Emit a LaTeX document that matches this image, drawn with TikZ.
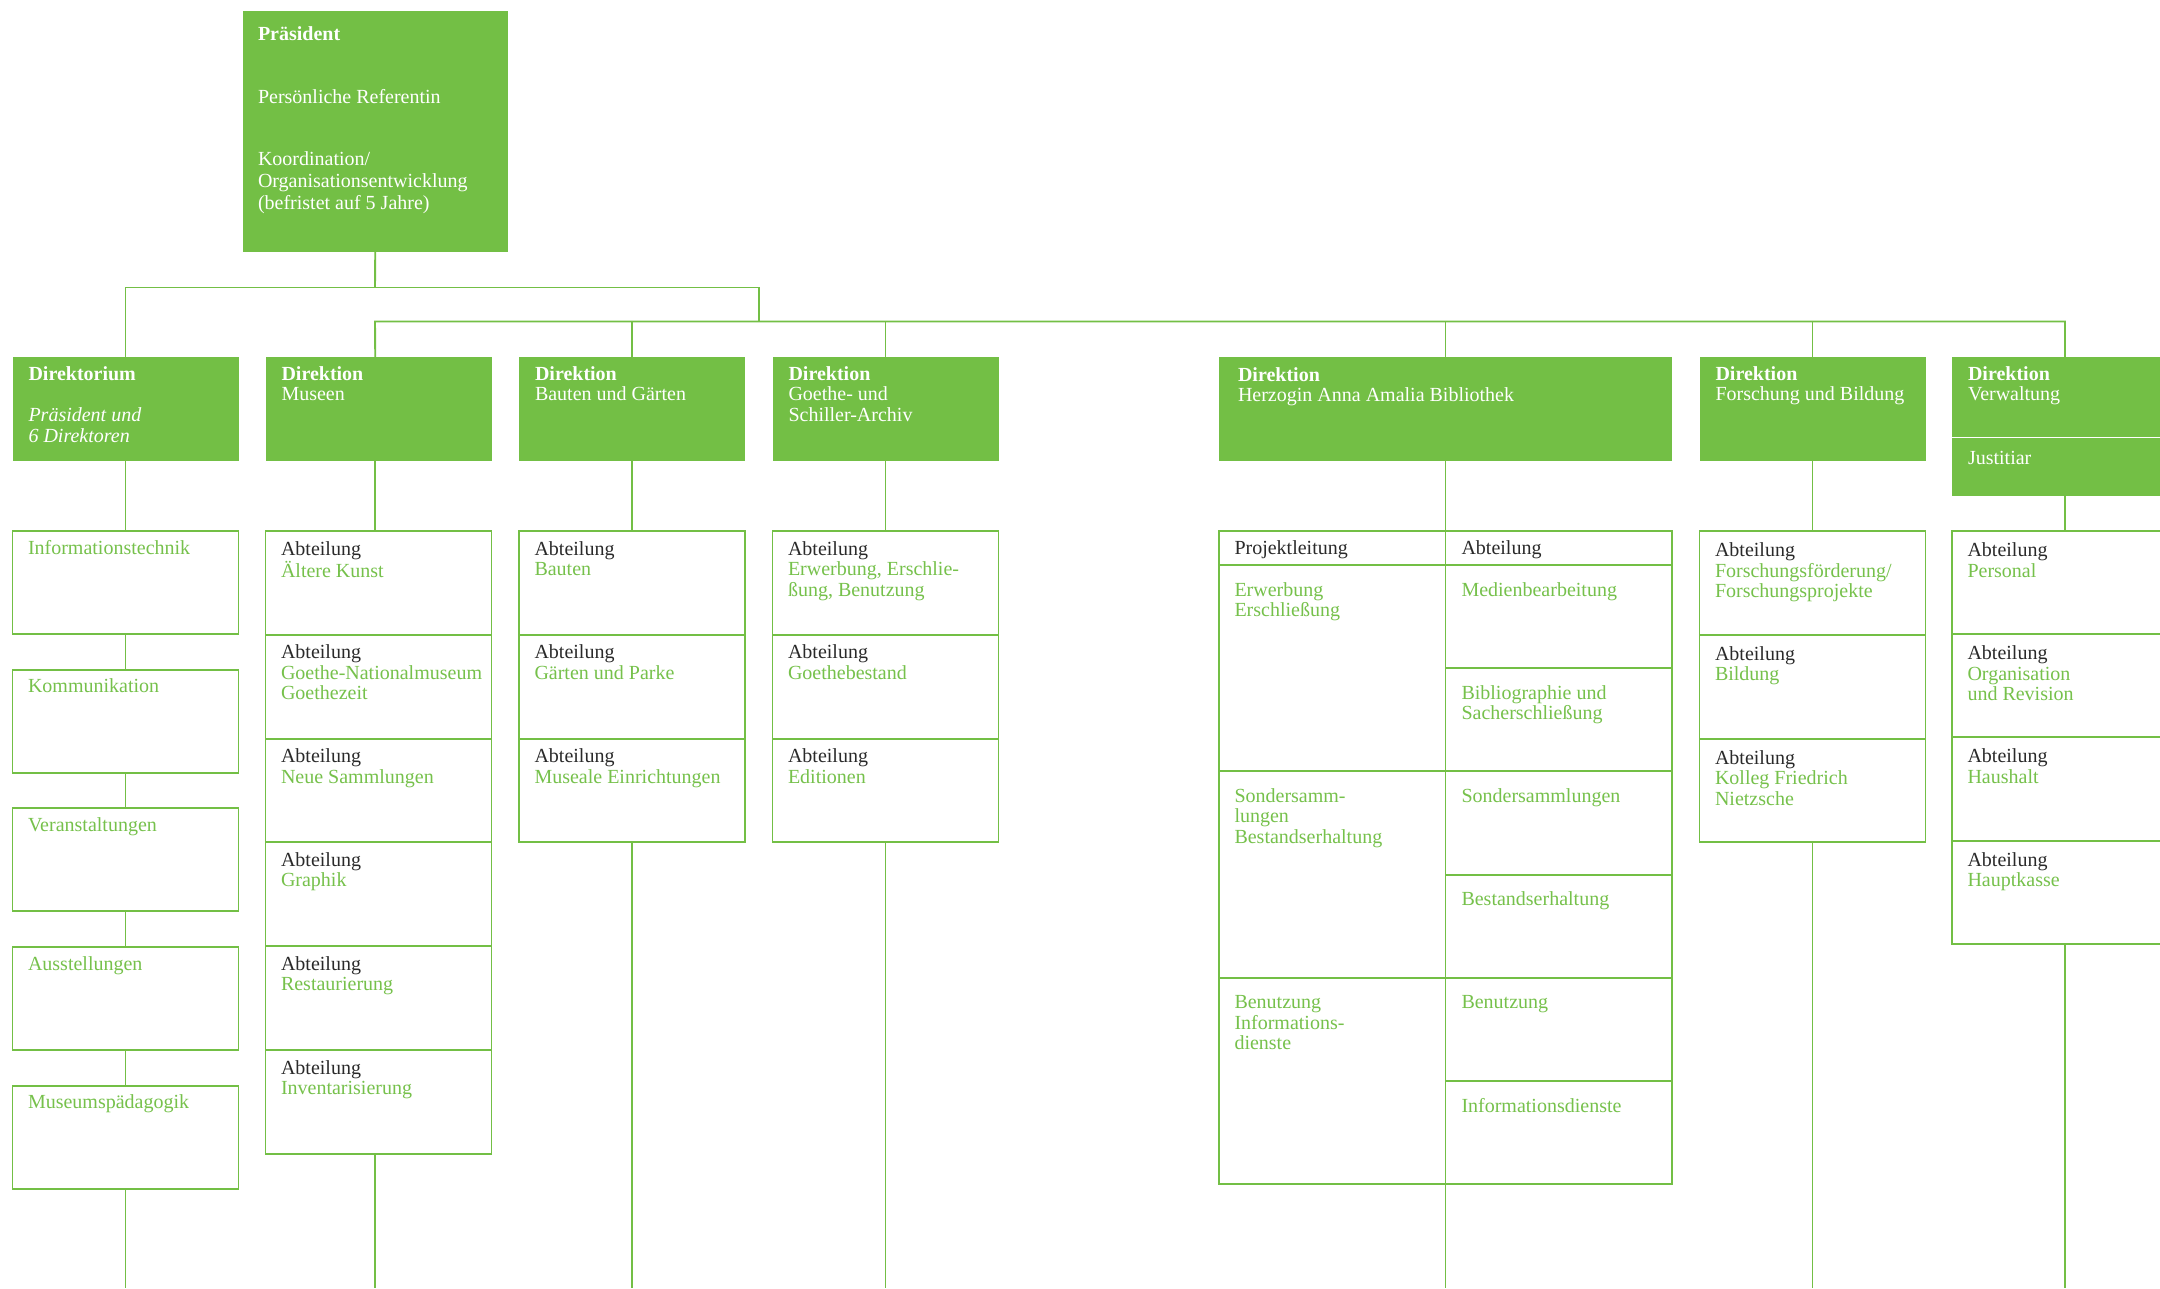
\documentclass[tikz,border=0pt]{standalone}
\usepackage{fontspec}
\setmainfont{Liberation Serif}
\definecolor{boxgreen}{HTML}{73BF45}
\definecolor{tgreen}{HTML}{76C14B}
\definecolor{darktext}{HTML}{2A2A2A}
\tikzset{
  gbox/.style={fill=boxgreen, draw=none, inner sep=0pt, outer sep=0pt, anchor=north west},
  sbox/.style={draw=boxgreen, line width=1.9pt, inner sep=0pt, outer sep=0pt, anchor=north west},
  conn/.style={draw=boxgreen, line width=1.9pt},
  basetxt/.style={font=\fontsize{20}{20.5}\selectfont, inner sep=0pt, outer sep=0pt, anchor=base west},
  wtxt/.style={basetxt, text=white},
  wtxtwide/.style={basetxt, text=white, font=\fontsize{20}{22}\selectfont},
  dtxt/.style={basetxt, text=darktext},
  gtxt/.style={basetxt, text=tgreen},
}
% lines stacked, baseline = first line
\newcommand\mlines[1]{\begin{tabular}[t]{@{}l@{}}#1\end{tabular}}
% box: style, name, x, y, w, h
\newcommand\mkbox[6]{\node[#1, minimum width=#5pt, minimum height=#6pt] (#2) at (#3,#4) {};}
% text: style, name, box, dx, dy, text
\newcommand\mktxt[6]{\node[#1] (#2) at ([shift={(#4,#5)}]#3.north west) {\mlines{#6}};}
\newcommand\gr[1]{\textcolor{tgreen}{#1}}
% Abteilung text
\newcommand\abt[5]{\mktxt{dtxt}{#1}{#2}{#3}{#4}{Abteilung\\#5}}
\begin{document}
\begin{tikzpicture}[x=1pt,y=-1pt]
\useasboundingbox (0,0) rectangle (2160,1288);
\fill[white] (0,0) rectangle (2160,1288);
\clip (0,0) rectangle (2160,1288);

% coordinates for buses and bottom
\coordinate (bus1) at (375,287.5);
\coordinate (bus1R) at (759,287.5);
\coordinate (bus2) at (375,321.5);
\coordinate (bottom) at (0,1288);

% President
\mkbox{gbox}{pres}{243}{10.5}{264.5}{241.5}
\mktxt{wtxt}{presA}{pres}{15}{29.5}{\textbf{Präsident}}
\mktxt{wtxt}{presB}{pres}{15}{92.5}{Persönliche Referentin}
\mktxt{wtxtwide}{presC}{pres}{15}{155}{Koordination/\\Organisationsentwicklung\\(befristet auf 5 Jahre)}

% Direction row
\mkbox{gbox}{dirk}{12.5}{357}{226}{103.5}
\mkbox{gbox}{mus}{265.5}{357}{226}{103.5}
\mkbox{gbox}{bau}{519}{357}{226}{103.5}
\mkbox{gbox}{gsa}{772.5}{357}{226}{103.5}
\mkbox{gbox}{haab}{1219}{357}{453}{103.5}
\mkbox{gbox}{fb}{1699.5}{357}{226}{103.5}
\mkbox{gbox}{verw}{1952}{357}{226}{79.5}
\mkbox{gbox}{just}{1952}{438}{226}{58}

\mktxt{wtxt}{dirkA}{dirk}{16}{23}{\textbf{Direktorium}}
\mktxt{wtxt}{dirkB}{dirk}{16}{64.5}{\textit{Präsident und}\\\textit{6 Direktoren}}
\mktxt{wtxt}{musA}{mus}{16}{23}{\textbf{Direktion}\\Museen}
\mktxt{wtxt}{bauA}{bau}{16}{23}{\textbf{Direktion}\\Bauten und Gärten}
\mktxt{wtxt}{gsaA}{gsa}{16}{23}{\textbf{Direktion}\\Goethe- und\\Schiller-Archiv}
\mktxt{wtxt}{haabA}{haab}{19}{24}{\textbf{Direktion}\\Herzogin Anna Amalia Bibliothek}
\mktxt{wtxt}{fbA}{fb}{16}{23}{\textbf{Direktion}\\Forschung und Bildung}
\mktxt{wtxt}{verwA}{verw}{16}{23}{\textbf{Direktion}\\Verwaltung}
\mktxt{wtxt}{justA}{just}{16}{26.5}{Justitiar}

% Direktorium column
\mkbox{sbox}{dk1}{12.5}{531}{226}{103}
\mkbox{sbox}{dk2}{12.5}{669.7}{226}{103}
\mkbox{sbox}{dk3}{12.5}{808.4}{226}{103}
\mkbox{sbox}{dk4}{12.5}{947.1}{226}{103}
\mkbox{sbox}{dk5}{12.5}{1085.8}{226}{103}
\mktxt{gtxt}{dk1t}{dk1}{15.5}{23}{Informationstechnik}
\mktxt{gtxt}{dk2t}{dk2}{15.5}{23}{Kommunikation}
\mktxt{gtxt}{dk3t}{dk3}{15.5}{23}{Veranstaltungen}
\mktxt{gtxt}{dk4t}{dk4}{15.5}{23}{Ausstellungen}
\mktxt{gtxt}{dk5t}{dk5}{15.5}{23}{Museumspädagogik}

% Museen column
\mkbox{sbox}{m1}{265.5}{531}{226}{103.8}
\mkbox{sbox}{m2}{265.5}{634.8}{226}{103.8}
\mkbox{sbox}{m3}{265.5}{738.6}{226}{103.8}
\mkbox{sbox}{m4}{265.5}{842.4}{226}{103.8}
\mkbox{sbox}{m5}{265.5}{946.2}{226}{103.8}
\mkbox{sbox}{m6}{265.5}{1050}{226}{103.8}
\abt{m1t}{m1}{15.5}{24}{\gr{Ältere Kunst}}
\abt{m2t}{m2}{15.5}{24}{\gr{Goethe-Nationalmuseum}\\\gr{Goethezeit}}
\abt{m3t}{m3}{15.5}{24}{\gr{Neue Sammlungen}}
\abt{m4t}{m4}{15.5}{24}{\gr{Graphik}}
\abt{m5t}{m5}{15.5}{24}{\gr{Restaurierung}}
\abt{m6t}{m6}{15.5}{24}{\gr{Inventarisierung}}

% Bauten column
\mkbox{sbox}{b1}{519}{531}{226}{103.8}
\mkbox{sbox}{b2}{519}{634.8}{226}{103.8}
\mkbox{sbox}{b3}{519}{738.6}{226}{103.8}
\abt{b1t}{b1}{15.5}{24}{\gr{Bauten}}
\abt{b2t}{b2}{15.5}{24}{\gr{Gärten und Parke}}
\abt{b3t}{b3}{15.5}{24}{\gr{Museale Einrichtungen}}

% GSA column
\mkbox{sbox}{g1}{772.5}{531}{226}{103.8}
\mkbox{sbox}{g2}{772.5}{634.8}{226}{103.8}
\mkbox{sbox}{g3}{772.5}{738.6}{226}{103.8}
\abt{g1t}{g1}{15.5}{24}{\gr{Erwerbung, Erschlie-}\\\gr{ßung, Benutzung}}
\abt{g2t}{g2}{15.5}{24}{\gr{Goethebestand}}
\abt{g3t}{g3}{15.5}{24}{\gr{Editionen}}

% HAAB block
\mkbox{sbox}{hl}{1219}{531}{226.5}{34}
\mkbox{sbox}{hr}{1445.5}{531}{226.5}{34}
\mkbox{sbox}{l1}{1219}{565}{226.5}{206.4}
\mkbox{sbox}{l2}{1219}{771.4}{226.5}{206.4}
\mkbox{sbox}{l3}{1219}{977.8}{226.5}{206.4}
\mkbox{sbox}{r1}{1445.5}{565}{226.5}{103.2}
\mkbox{sbox}{r2}{1445.5}{668.2}{226.5}{103.2}
\mkbox{sbox}{r3}{1445.5}{771.4}{226.5}{103.2}
\mkbox{sbox}{r4}{1445.5}{874.6}{226.5}{103.2}
\mkbox{sbox}{r5}{1445.5}{977.8}{226.5}{103.2}
\mkbox{sbox}{r6}{1445.5}{1081}{226.5}{103.2}
\mktxt{dtxt}{hlt}{hl}{15.5}{23}{Projektleitung}
\mktxt{dtxt}{hrt}{hr}{16}{23}{Abteilung}
\mktxt{gtxt}{l1t}{l1}{15.5}{31}{Erwerbung\\Erschließung}
\mktxt{gtxt}{l2t}{l2}{15.5}{31}{Sondersamm-\\lungen\\Bestandserhaltung}
\mktxt{gtxt}{l3t}{l3}{15.5}{31}{Benutzung\\Informations-\\dienste}
\mktxt{gtxt}{r1t}{r1}{16}{31}{Medienbearbeitung}
\mktxt{gtxt}{r2t}{r2}{16}{31}{Bibliographie und\\Sacherschließung}
\mktxt{gtxt}{r3t}{r3}{16}{31}{Sondersammlungen}
\mktxt{gtxt}{r4t}{r4}{16}{31}{Bestandserhaltung}
\mktxt{gtxt}{r5t}{r5}{16}{31}{Benutzung}
\mktxt{gtxt}{r6t}{r6}{16}{31}{Informationsdienste}

% Forschung column
\mkbox{sbox}{f1}{1699.5}{531}{226}{103.8}
\mkbox{sbox}{f2}{1699.5}{634.8}{226}{103.8}
\mkbox{sbox}{f3}{1699.5}{738.6}{226}{103.8}
\abt{f1t}{f1}{15.5}{25.5}{\gr{Forschungsförderung/}\\\gr{Forschungsprojekte}}
\abt{f2t}{f2}{15.5}{25.5}{\gr{Bildung}}
\abt{f3t}{f3}{15.5}{25.5}{\gr{Kolleg Friedrich}\\\gr{Nietzsche}}

% Verwaltung column
\mkbox{sbox}{v1}{1952}{531}{226}{103.2}
\mkbox{sbox}{v2}{1952}{634.2}{226}{103.2}
\mkbox{sbox}{v3}{1952}{737.4}{226}{103.2}
\mkbox{sbox}{v4}{1952}{840.6}{226}{103.2}
\abt{v1t}{v1}{15.5}{25.5}{\gr{Personal}}
\abt{v2t}{v2}{15.5}{25.5}{\gr{Organisation}\\\gr{und Revision}}
\abt{v3t}{v3}{15.5}{25.5}{\gr{Haushalt}}
\abt{v4t}{v4}{15.5}{25.5}{\gr{Hauptkasse}}

% Connectors: buses
\draw[conn] (pres.south) -- (bus1);
\draw[conn] (dirk.north) |- (bus1R) -- (bus1R |- bus2);
\draw[conn] (pres.south |- mus.north) -- (bus2) -- (bus2 -| just.north) -- (just.north |- verw.north);
\draw[conn] (bau.north) -- (bau.north |- bus2);
\draw[conn] (gsa.north) -- (gsa.north |- bus2);
\draw[conn] (haab.north) -- (haab.north |- bus2);
\draw[conn] (fb.north) -- (fb.north |- bus2);

% Connectors: direction to departments
\draw[conn] (dirk.south) -- (dk1.north);
\draw[conn] (pres.south |- mus.south) -- (pres.south |- m1.north);
\draw[conn] (bau.south) -- (b1.north);
\draw[conn] (gsa.south) -- (g1.north);
\draw[conn] (haab.south) -- (hr.north west);
\draw[conn] (fb.south) -- (f1.north);
\draw[conn] (just.south) -- (v1.north);

% Direktorium chain
\draw[conn] (dk1.south) -- (dk2.north);
\draw[conn] (dk2.south) -- (dk3.north);
\draw[conn] (dk3.south) -- (dk4.north);
\draw[conn] (dk4.south) -- (dk5.north);

% lines to the bottom edge
\draw[conn] (dk5.south) -- (dk5.south |- bottom);
\draw[conn] (pres.south |- m6.south) -- (pres.south |- bottom);
\draw[conn] (b3.south) -- (b3.south |- bottom);
\draw[conn] (g3.south) -- (g3.south |- bottom);
\draw[conn] (r6.south west) -- (r6.south west |- bottom);
\draw[conn] (f3.south) -- (f3.south |- bottom);
\draw[conn] (v4.south) -- (v4.south |- bottom);
\end{tikzpicture}
\end{document}
